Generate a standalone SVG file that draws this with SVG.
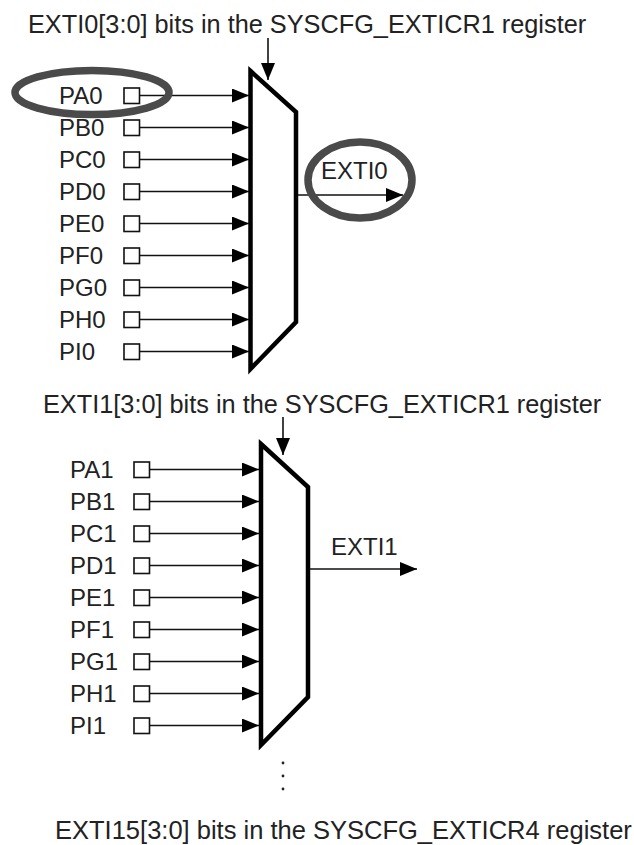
<svg xmlns="http://www.w3.org/2000/svg" width="634" height="845" viewBox="0 0 634 845">
<style>
text{font-family:"Liberation Sans",Arial,sans-serif;fill:#222;}
.title{font-size:25.3px;}
.lbl{font-size:24px;}
.sq{fill:#fff;stroke:#111;stroke-width:1.6;}
.wire{stroke:#111;stroke-width:1.6;fill:none;marker-end:url(#ah);}
.mux{fill:#fff;stroke:#000;stroke-width:4.5;stroke-linejoin:miter;}
.hl{fill:none;stroke:#4a4a4a;stroke-width:7.5;}
</style>
<defs>
<marker id="ah" markerUnits="userSpaceOnUse" markerWidth="18" markerHeight="15" refX="17" refY="7" orient="auto">
<path d="M0,0 L17,7 L0,14 z" fill="#000"/>
</marker>
</defs>
<rect width="634" height="845" fill="#fff"/>

<g id="mux0">
<text class="title" x="28" y="33">EXTI0[3:0] bits in the SYSCFG_EXTICR1 register</text>
<polygon class="mux" points="250.5,71 296,112 296,322 250.5,369"/>
<g id="inputs0">
<text class="lbl" x="59" y="104">PA0</text><rect class="sq" x="124" y="88" width="15.5" height="15.5"/>
<text class="lbl" x="59" y="136">PB0</text><rect class="sq" x="124" y="120" width="15.5" height="15.5"/>
<text class="lbl" x="59" y="168">PC0</text><rect class="sq" x="124" y="152" width="15.5" height="15.5"/>
<text class="lbl" x="59" y="200">PD0</text><rect class="sq" x="124" y="184" width="15.5" height="15.5"/>
<text class="lbl" x="59" y="232">PE0</text><rect class="sq" x="124" y="216" width="15.5" height="15.5"/>
<text class="lbl" x="59" y="264">PF0</text><rect class="sq" x="124" y="248" width="15.5" height="15.5"/>
<text class="lbl" x="59" y="296">PG0</text><rect class="sq" x="124" y="280" width="15.5" height="15.5"/>
<text class="lbl" x="59" y="328">PH0</text><rect class="sq" x="124" y="312" width="15.5" height="15.5"/>
<text class="lbl" x="59" y="360">PI0</text><rect class="sq" x="124" y="344" width="15.5" height="15.5"/>
</g>
<text class="lbl" x="321" y="179">EXTI0</text>
</g>

<g id="mux1">
<text class="title" x="43" y="413">EXTI1[3:0] bits in the SYSCFG_EXTICR1 register</text>
<polygon class="mux" points="261,444 308,487 308,697 261,745"/>
<g id="inputs1">
<text class="lbl" x="70" y="478">PA1</text><rect class="sq" x="134" y="462" width="15.5" height="15.5"/>
<text class="lbl" x="70" y="510">PB1</text><rect class="sq" x="134" y="494" width="15.5" height="15.5"/>
<text class="lbl" x="70" y="542">PC1</text><rect class="sq" x="134" y="526" width="15.5" height="15.5"/>
<text class="lbl" x="70" y="574">PD1</text><rect class="sq" x="134" y="558" width="15.5" height="15.5"/>
<text class="lbl" x="70" y="606">PE1</text><rect class="sq" x="134" y="590" width="15.5" height="15.5"/>
<text class="lbl" x="70" y="638">PF1</text><rect class="sq" x="134" y="622" width="15.5" height="15.5"/>
<text class="lbl" x="70" y="670">PG1</text><rect class="sq" x="134" y="654" width="15.5" height="15.5"/>
<text class="lbl" x="70" y="702">PH1</text><rect class="sq" x="134" y="686" width="15.5" height="15.5"/>
<text class="lbl" x="70" y="734">PI1</text><rect class="sq" x="134" y="718" width="15.5" height="15.5"/>
</g>
<text class="lbl" x="331" y="555">EXTI1</text>
</g>

<g id="more">
<circle cx="283" cy="763" r="1.4" fill="#222"/>
<circle cx="283" cy="776" r="1.4" fill="#222"/>
<circle cx="283" cy="789" r="1.4" fill="#222"/>
<text class="title" x="55" y="839" style="font-size:25.5px">EXTI15[3:0] bits in the SYSCFG_EXTICR4 register</text>
</g>

<g id="connectors">
<line class="wire" x1="268" y1="38" x2="268" y2="80"/>
<line class="wire" x1="140" y1="95.5" x2="249" y2="95.5"/>
<line class="wire" x1="140" y1="127.5" x2="249" y2="127.5"/>
<line class="wire" x1="140" y1="159.5" x2="249" y2="159.5"/>
<line class="wire" x1="140" y1="191.5" x2="249" y2="191.5"/>
<line class="wire" x1="140" y1="223.5" x2="249" y2="223.5"/>
<line class="wire" x1="140" y1="255.5" x2="249" y2="255.5"/>
<line class="wire" x1="140" y1="287.5" x2="249" y2="287.5"/>
<line class="wire" x1="140" y1="319.5" x2="249" y2="319.5"/>
<line class="wire" x1="140" y1="351.5" x2="249" y2="351.5"/>
<line class="wire" x1="298" y1="195" x2="403" y2="195"/>

<line class="wire" x1="283" y1="417" x2="283" y2="455"/>
<line class="wire" x1="150" y1="469.5" x2="259" y2="469.5"/>
<line class="wire" x1="150" y1="501.5" x2="259" y2="501.5"/>
<line class="wire" x1="150" y1="533.5" x2="259" y2="533.5"/>
<line class="wire" x1="150" y1="565.5" x2="259" y2="565.5"/>
<line class="wire" x1="150" y1="597.5" x2="259" y2="597.5"/>
<line class="wire" x1="150" y1="629.5" x2="259" y2="629.5"/>
<line class="wire" x1="150" y1="661.5" x2="259" y2="661.5"/>
<line class="wire" x1="150" y1="693.5" x2="259" y2="693.5"/>
<line class="wire" x1="150" y1="725.5" x2="259" y2="725.5"/>
<line class="wire" x1="310" y1="569" x2="417" y2="569"/>
</g>

<g id="highlights">
<ellipse class="hl" cx="92" cy="92.5" rx="77" ry="22"/>
<ellipse class="hl" cx="360" cy="180" rx="52" ry="38"/>
</g>
</svg>
